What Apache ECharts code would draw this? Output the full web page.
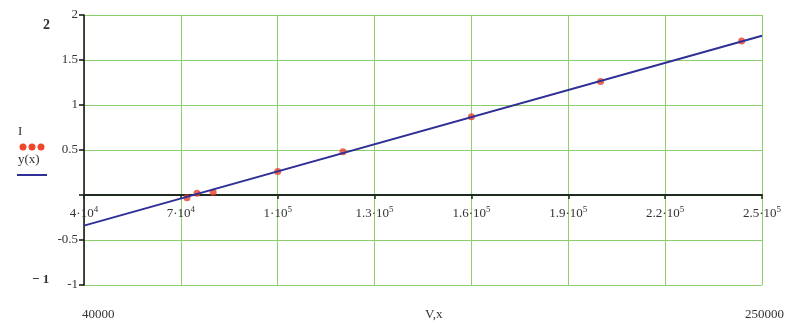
<!DOCTYPE html>
<html>
<head>
<meta charset="utf-8">
<script src="https://cdn.jsdelivr.net/npm/echarts@6/dist/echarts.min.js"></script>
<style>
html,body{margin:0;padding:0;background:#fff;}
#chart{width:803px;height:324px;}
</style>
</head>
<body>
<div id="chart"></div>
<script>
// Measured points (V, I)
var pointV = [71900, 75000, 80000, 100000, 120200, 160000, 200000, 243700];
var pointI = [-0.03, 0.02, 0.03, 0.26, 0.48, 0.87, 1.26, 1.71];
// Fitted line y(x), read at the plot ends
var lineX = [40000, 250000];
var lineY = [-0.34, 1.77];
// Axis ticks
var xTicks = [40000, 70000, 100000, 130000, 160000, 190000, 220000, 250000];
var xTickMant = ['4', '7', '1', '1.3', '1.6', '1.9', '2.2', '2.5'];
var xTickExp = ['4', '4', '5', '5', '5', '5', '5', '5'];
var yTicks = [-1, -0.5, 0, 0.5, 1, 1.5, 2];
var yTickLabels = ['-1', '-0.5', '', '0.5', '1', '1.5', '2'];

var serif = '"Liberation Serif", "DejaVu Serif", serif';
var textCol = '#333333';
var gridCol = '#8ccf6e';

var chart = echarts.init(document.getElementById('chart'));
var option = {
  backgroundColor: '#ffffff',
  animation: false,
  grid: {left: 84, right: 41, top: 15, bottom: 39, containLabel: false},
  xAxis: {
    type: 'value',
    min: xTicks[0],
    max: xTicks[xTicks.length - 1],
    interval: xTicks[1] - xTicks[0],
    position: 'bottom',
    offset: -90,
    axisLine: {onZero: false, lineStyle: {color: '#1e2a1e', width: 2}},
    axisTick: {show: true, length: 4, lineStyle: {color: '#1e2a1e', width: 1.5}},
    splitLine: {show: true, lineStyle: {color: gridCol, width: 1}},
    axisLabel: {
      margin: 10,
      formatter: function (v) {
        var i = xTicks.indexOf(v);
        if (i < 0) return '';
        return '{m|' + xTickMant[i] + '·}{b|10}{s|' + xTickExp[i] + '}';
      },
      rich: {
        m: {fontFamily: serif, fontSize: 13, color: textCol},
        b: {fontFamily: serif, fontSize: 13, color: textCol},
        s: {fontFamily: serif, fontSize: 9, color: textCol, padding: [0, 0, 8, 0]}
      }
    }
  },
  yAxis: {
    type: 'value',
    min: yTicks[0],
    max: yTicks[yTicks.length - 1],
    interval: 0.5,
    axisLine: {show: true, onZero: false, lineStyle: {color: '#111111', width: 1.5}},
    axisTick: {show: true, length: 5, lineStyle: {color: '#111111', width: 1.5}},
    splitLine: {show: true, lineStyle: {color: gridCol, width: 1}},
    axisLabel: {
      margin: 6,
      fontFamily: serif,
      fontSize: 13,
      color: textCol,
      formatter: function (v) {
        var i = yTicks.indexOf(v);
        return i < 0 ? '' : yTickLabels[i];
      }
    }
  },
  series: [
    {
      name: 'y(x)',
      type: 'line',
      data: lineX.map(function (x, i) { return [x, lineY[i]]; }),
      showSymbol: false,
      symbol: 'none',
      lineStyle: {color: '#2f2f96', width: 2},
      z: 3
    },
    {
      name: 'I',
      type: 'scatter',
      data: pointV.map(function (x, i) { return [x, pointI[i]]; }),
      symbol: 'circle',
      symbolSize: 7,
      itemStyle: {color: '#e8402a'},
      z: 2
    }
  ],
  graphic: [
    {type: 'text', left: 18, top: 125, style: {text: 'I', font: '13px ' + serif, fill: textCol}},
    {type: 'circle', shape: {cx: 23, cy: 147, r: 3.5}, style: {fill: '#f0462e'}},
    {type: 'circle', shape: {cx: 32, cy: 147, r: 3.5}, style: {fill: '#f0462e'}},
    {type: 'circle', shape: {cx: 41, cy: 147, r: 3.5}, style: {fill: '#f0462e'}},
    {type: 'text', left: 18, top: 153, style: {text: 'y(x)', font: '13px ' + serif, fill: textCol}},
    {type: 'line', shape: {x1: 17, y1: 175, x2: 47, y2: 175}, style: {stroke: '#2f2f96', lineWidth: 2}},
    {type: 'text', left: 43, top: 18, style: {text: '2', font: 'bold 14px ' + serif, fill: textCol}},
    {type: 'text', left: 32, top: 273, style: {text: '− 1', font: 'bold 13px ' + serif, fill: textCol}},
    {type: 'text', left: 82, top: 308, style: {text: '40000', font: '13px ' + serif, fill: textCol}},
    {type: 'text', left: 425, top: 308, style: {text: 'V,x', font: '13px ' + serif, fill: textCol}},
    {type: 'text', left: 745, top: 308, style: {text: '250000', font: '13px ' + serif, fill: textCol}}
  ]
};
chart.setOption(option);
</script>
</body>
</html>
